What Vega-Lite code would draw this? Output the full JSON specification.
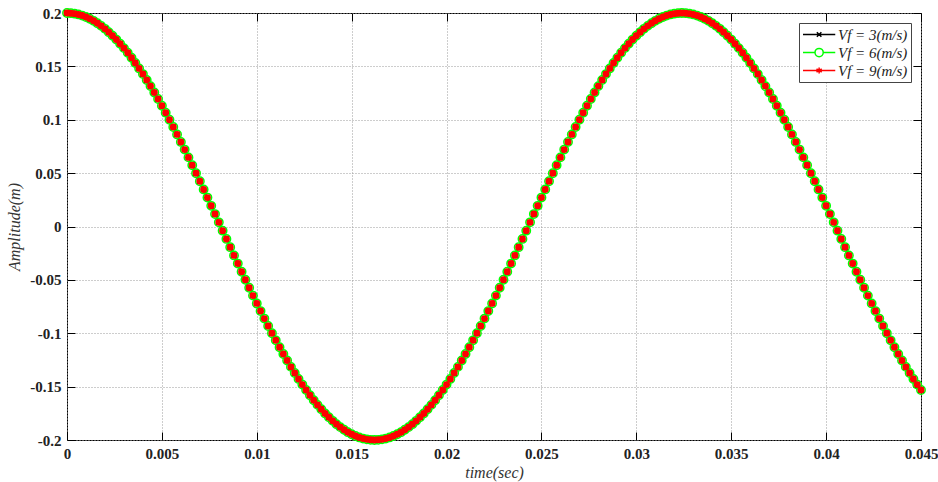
{
"$schema": "https://vega.github.io/schema/vega-lite/v6.json",
"width": 854, "height": 427,
"autosize": {"type": "none"},
"padding": {"left": 67, "top": 13, "right": 17, "bottom": 42},
"background": "white",
"config": {"view": {"stroke": "black", "strokeWidth": 1}, "font": "Liberation Serif"},
"data": {"values": [
{"t":0,"v3":0.2,"v6":0.2,"v9":0.2},
{"t":0.0002,"v3":0.19985,"v6":0.19985,"v9":0.19985},
{"t":0.0004,"v3":0.1994,"v6":0.1994,"v9":0.1994},
{"t":0.0006,"v3":0.19865,"v6":0.19865,"v9":0.19865},
{"t":0.0008,"v3":0.1976,"v6":0.1976,"v9":0.1976},
{"t":0.001,"v3":0.19625,"v6":0.19625,"v9":0.19625},
{"t":0.0012,"v3":0.19461,"v6":0.19461,"v9":0.19461},
{"t":0.0014,"v3":0.19267,"v6":0.19267,"v9":0.19267},
{"t":0.0016,"v3":0.19045,"v6":0.19045,"v9":0.19045},
{"t":0.0018,"v3":0.18794,"v6":0.18794,"v9":0.18794},
{"t":0.002,"v3":0.18514,"v6":0.18514,"v9":0.18514},
{"t":0.0022,"v3":0.18207,"v6":0.18207,"v9":0.18207},
{"t":0.0024,"v3":0.17873,"v6":0.17873,"v9":0.17873},
{"t":0.0026,"v3":0.17511,"v6":0.17511,"v9":0.17511},
{"t":0.0028,"v3":0.17123,"v6":0.17123,"v9":0.17123},
{"t":0.003,"v3":0.1671,"v6":0.1671,"v9":0.1671},
{"t":0.0032,"v3":0.16271,"v6":0.16271,"v9":0.16271},
{"t":0.0034,"v3":0.15808,"v6":0.15808,"v9":0.15808},
{"t":0.0036,"v3":0.15321,"v6":0.15321,"v9":0.15321},
{"t":0.0038,"v3":0.14811,"v6":0.14811,"v9":0.14811},
{"t":0.004,"v3":0.14279,"v6":0.14279,"v9":0.14279},
{"t":0.0042,"v3":0.13725,"v6":0.13725,"v9":0.13725},
{"t":0.0044,"v3":0.1315,"v6":0.1315,"v9":0.1315},
{"t":0.0046,"v3":0.12556,"v6":0.12556,"v9":0.12556},
{"t":0.0048,"v3":0.11943,"v6":0.11943,"v9":0.11943},
{"t":0.005,"v3":0.11312,"v6":0.11312,"v9":0.11312},
{"t":0.0052,"v3":0.10664,"v6":0.10664,"v9":0.10664},
{"t":0.0054,"v3":0.1,"v6":0.1,"v9":0.1},
{"t":0.0056,"v3":0.09321,"v6":0.09321,"v9":0.09321},
{"t":0.0058,"v3":0.08628,"v6":0.08628,"v9":0.08628},
{"t":0.006,"v3":0.07922,"v6":0.07922,"v9":0.07922},
{"t":0.0062,"v3":0.07204,"v6":0.07204,"v9":0.07204},
{"t":0.0064,"v3":0.06475,"v6":0.06475,"v9":0.06475},
{"t":0.0066,"v3":0.05736,"v6":0.05736,"v9":0.05736},
{"t":0.0068,"v3":0.04989,"v6":0.04989,"v9":0.04989},
{"t":0.007,"v3":0.04234,"v6":0.04234,"v9":0.04234},
{"t":0.0072,"v3":0.03473,"v6":0.03473,"v9":0.03473},
{"t":0.0074,"v3":0.02707,"v6":0.02707,"v9":0.02707},
{"t":0.0076,"v3":0.01936,"v6":0.01936,"v9":0.01936},
{"t":0.0078,"v3":0.01163,"v6":0.01163,"v9":0.01163},
{"t":0.008,"v3":0.00388,"v6":0.00388,"v9":0.00388},
{"t":0.0082,"v3":-0.00388,"v6":-0.00388,"v9":-0.00388},
{"t":0.0084,"v3":-0.01163,"v6":-0.01163,"v9":-0.01163},
{"t":0.0086,"v3":-0.01936,"v6":-0.01936,"v9":-0.01936},
{"t":0.0088,"v3":-0.02707,"v6":-0.02707,"v9":-0.02707},
{"t":0.009,"v3":-0.03473,"v6":-0.03473,"v9":-0.03473},
{"t":0.0092,"v3":-0.04234,"v6":-0.04234,"v9":-0.04234},
{"t":0.0094,"v3":-0.04989,"v6":-0.04989,"v9":-0.04989},
{"t":0.0096,"v3":-0.05736,"v6":-0.05736,"v9":-0.05736},
{"t":0.0098,"v3":-0.06475,"v6":-0.06475,"v9":-0.06475},
{"t":0.01,"v3":-0.07204,"v6":-0.07204,"v9":-0.07204},
{"t":0.0102,"v3":-0.07922,"v6":-0.07922,"v9":-0.07922},
{"t":0.0104,"v3":-0.08628,"v6":-0.08628,"v9":-0.08628},
{"t":0.0106,"v3":-0.09321,"v6":-0.09321,"v9":-0.09321},
{"t":0.0108,"v3":-0.1,"v6":-0.1,"v9":-0.1},
{"t":0.011,"v3":-0.10664,"v6":-0.10664,"v9":-0.10664},
{"t":0.0112,"v3":-0.11312,"v6":-0.11312,"v9":-0.11312},
{"t":0.0114,"v3":-0.11943,"v6":-0.11943,"v9":-0.11943},
{"t":0.0116,"v3":-0.12556,"v6":-0.12556,"v9":-0.12556},
{"t":0.0118,"v3":-0.1315,"v6":-0.1315,"v9":-0.1315},
{"t":0.012,"v3":-0.13725,"v6":-0.13725,"v9":-0.13725},
{"t":0.0122,"v3":-0.14279,"v6":-0.14279,"v9":-0.14279},
{"t":0.0124,"v3":-0.14811,"v6":-0.14811,"v9":-0.14811},
{"t":0.0126,"v3":-0.15321,"v6":-0.15321,"v9":-0.15321},
{"t":0.0128,"v3":-0.15808,"v6":-0.15808,"v9":-0.15808},
{"t":0.013,"v3":-0.16271,"v6":-0.16271,"v9":-0.16271},
{"t":0.0132,"v3":-0.1671,"v6":-0.1671,"v9":-0.1671},
{"t":0.0134,"v3":-0.17123,"v6":-0.17123,"v9":-0.17123},
{"t":0.0136,"v3":-0.17511,"v6":-0.17511,"v9":-0.17511},
{"t":0.0138,"v3":-0.17873,"v6":-0.17873,"v9":-0.17873},
{"t":0.014,"v3":-0.18207,"v6":-0.18207,"v9":-0.18207},
{"t":0.0142,"v3":-0.18514,"v6":-0.18514,"v9":-0.18514},
{"t":0.0144,"v3":-0.18794,"v6":-0.18794,"v9":-0.18794},
{"t":0.0146,"v3":-0.19045,"v6":-0.19045,"v9":-0.19045},
{"t":0.0148,"v3":-0.19267,"v6":-0.19267,"v9":-0.19267},
{"t":0.015,"v3":-0.19461,"v6":-0.19461,"v9":-0.19461},
{"t":0.0152,"v3":-0.19625,"v6":-0.19625,"v9":-0.19625},
{"t":0.0154,"v3":-0.1976,"v6":-0.1976,"v9":-0.1976},
{"t":0.0156,"v3":-0.19865,"v6":-0.19865,"v9":-0.19865},
{"t":0.0158,"v3":-0.1994,"v6":-0.1994,"v9":-0.1994},
{"t":0.016,"v3":-0.19985,"v6":-0.19985,"v9":-0.19985},
{"t":0.0162,"v3":-0.2,"v6":-0.2,"v9":-0.2},
{"t":0.0164,"v3":-0.19985,"v6":-0.19985,"v9":-0.19985},
{"t":0.0166,"v3":-0.1994,"v6":-0.1994,"v9":-0.1994},
{"t":0.0168,"v3":-0.19865,"v6":-0.19865,"v9":-0.19865},
{"t":0.017,"v3":-0.1976,"v6":-0.1976,"v9":-0.1976},
{"t":0.0172,"v3":-0.19625,"v6":-0.19625,"v9":-0.19625},
{"t":0.0174,"v3":-0.19461,"v6":-0.19461,"v9":-0.19461},
{"t":0.0176,"v3":-0.19267,"v6":-0.19267,"v9":-0.19267},
{"t":0.0178,"v3":-0.19045,"v6":-0.19045,"v9":-0.19045},
{"t":0.018,"v3":-0.18794,"v6":-0.18794,"v9":-0.18794},
{"t":0.0182,"v3":-0.18514,"v6":-0.18514,"v9":-0.18514},
{"t":0.0184,"v3":-0.18207,"v6":-0.18207,"v9":-0.18207},
{"t":0.0186,"v3":-0.17873,"v6":-0.17873,"v9":-0.17873},
{"t":0.0188,"v3":-0.17511,"v6":-0.17511,"v9":-0.17511},
{"t":0.019,"v3":-0.17123,"v6":-0.17123,"v9":-0.17123},
{"t":0.0192,"v3":-0.1671,"v6":-0.1671,"v9":-0.1671},
{"t":0.0194,"v3":-0.16271,"v6":-0.16271,"v9":-0.16271},
{"t":0.0196,"v3":-0.15808,"v6":-0.15808,"v9":-0.15808},
{"t":0.0198,"v3":-0.15321,"v6":-0.15321,"v9":-0.15321},
{"t":0.02,"v3":-0.14811,"v6":-0.14811,"v9":-0.14811},
{"t":0.0202,"v3":-0.14279,"v6":-0.14279,"v9":-0.14279},
{"t":0.0204,"v3":-0.13725,"v6":-0.13725,"v9":-0.13725},
{"t":0.0206,"v3":-0.1315,"v6":-0.1315,"v9":-0.1315},
{"t":0.0208,"v3":-0.12556,"v6":-0.12556,"v9":-0.12556},
{"t":0.021,"v3":-0.11943,"v6":-0.11943,"v9":-0.11943},
{"t":0.0212,"v3":-0.11312,"v6":-0.11312,"v9":-0.11312},
{"t":0.0214,"v3":-0.10664,"v6":-0.10664,"v9":-0.10664},
{"t":0.0216,"v3":-0.1,"v6":-0.1,"v9":-0.1},
{"t":0.0218,"v3":-0.09321,"v6":-0.09321,"v9":-0.09321},
{"t":0.022,"v3":-0.08628,"v6":-0.08628,"v9":-0.08628},
{"t":0.0222,"v3":-0.07922,"v6":-0.07922,"v9":-0.07922},
{"t":0.0224,"v3":-0.07204,"v6":-0.07204,"v9":-0.07204},
{"t":0.0226,"v3":-0.06475,"v6":-0.06475,"v9":-0.06475},
{"t":0.0228,"v3":-0.05736,"v6":-0.05736,"v9":-0.05736},
{"t":0.023,"v3":-0.04989,"v6":-0.04989,"v9":-0.04989},
{"t":0.0232,"v3":-0.04234,"v6":-0.04234,"v9":-0.04234},
{"t":0.0234,"v3":-0.03473,"v6":-0.03473,"v9":-0.03473},
{"t":0.0236,"v3":-0.02707,"v6":-0.02707,"v9":-0.02707},
{"t":0.0238,"v3":-0.01936,"v6":-0.01936,"v9":-0.01936},
{"t":0.024,"v3":-0.01163,"v6":-0.01163,"v9":-0.01163},
{"t":0.0242,"v3":-0.00388,"v6":-0.00388,"v9":-0.00388},
{"t":0.0244,"v3":0.00388,"v6":0.00388,"v9":0.00388},
{"t":0.0246,"v3":0.01163,"v6":0.01163,"v9":0.01163},
{"t":0.0248,"v3":0.01936,"v6":0.01936,"v9":0.01936},
{"t":0.025,"v3":0.02707,"v6":0.02707,"v9":0.02707},
{"t":0.0252,"v3":0.03473,"v6":0.03473,"v9":0.03473},
{"t":0.0254,"v3":0.04234,"v6":0.04234,"v9":0.04234},
{"t":0.0256,"v3":0.04989,"v6":0.04989,"v9":0.04989},
{"t":0.0258,"v3":0.05736,"v6":0.05736,"v9":0.05736},
{"t":0.026,"v3":0.06475,"v6":0.06475,"v9":0.06475},
{"t":0.0262,"v3":0.07204,"v6":0.07204,"v9":0.07204},
{"t":0.0264,"v3":0.07922,"v6":0.07922,"v9":0.07922},
{"t":0.0266,"v3":0.08628,"v6":0.08628,"v9":0.08628},
{"t":0.0268,"v3":0.09321,"v6":0.09321,"v9":0.09321},
{"t":0.027,"v3":0.1,"v6":0.1,"v9":0.1},
{"t":0.0272,"v3":0.10664,"v6":0.10664,"v9":0.10664},
{"t":0.0274,"v3":0.11312,"v6":0.11312,"v9":0.11312},
{"t":0.0276,"v3":0.11943,"v6":0.11943,"v9":0.11943},
{"t":0.0278,"v3":0.12556,"v6":0.12556,"v9":0.12556},
{"t":0.028,"v3":0.1315,"v6":0.1315,"v9":0.1315},
{"t":0.0282,"v3":0.13725,"v6":0.13725,"v9":0.13725},
{"t":0.0284,"v3":0.14279,"v6":0.14279,"v9":0.14279},
{"t":0.0286,"v3":0.14811,"v6":0.14811,"v9":0.14811},
{"t":0.0288,"v3":0.15321,"v6":0.15321,"v9":0.15321},
{"t":0.029,"v3":0.15808,"v6":0.15808,"v9":0.15808},
{"t":0.0292,"v3":0.16271,"v6":0.16271,"v9":0.16271},
{"t":0.0294,"v3":0.1671,"v6":0.1671,"v9":0.1671},
{"t":0.0296,"v3":0.17123,"v6":0.17123,"v9":0.17123},
{"t":0.0298,"v3":0.17511,"v6":0.17511,"v9":0.17511},
{"t":0.03,"v3":0.17873,"v6":0.17873,"v9":0.17873},
{"t":0.0302,"v3":0.18207,"v6":0.18207,"v9":0.18207},
{"t":0.0304,"v3":0.18514,"v6":0.18514,"v9":0.18514},
{"t":0.0306,"v3":0.18794,"v6":0.18794,"v9":0.18794},
{"t":0.0308,"v3":0.19045,"v6":0.19045,"v9":0.19045},
{"t":0.031,"v3":0.19267,"v6":0.19267,"v9":0.19267},
{"t":0.0312,"v3":0.19461,"v6":0.19461,"v9":0.19461},
{"t":0.0314,"v3":0.19625,"v6":0.19625,"v9":0.19625},
{"t":0.0316,"v3":0.1976,"v6":0.1976,"v9":0.1976},
{"t":0.0318,"v3":0.19865,"v6":0.19865,"v9":0.19865},
{"t":0.032,"v3":0.1994,"v6":0.1994,"v9":0.1994},
{"t":0.0322,"v3":0.19985,"v6":0.19985,"v9":0.19985},
{"t":0.0324,"v3":0.2,"v6":0.2,"v9":0.2},
{"t":0.0326,"v3":0.19985,"v6":0.19985,"v9":0.19985},
{"t":0.0328,"v3":0.1994,"v6":0.1994,"v9":0.1994},
{"t":0.033,"v3":0.19865,"v6":0.19865,"v9":0.19865},
{"t":0.0332,"v3":0.1976,"v6":0.1976,"v9":0.1976},
{"t":0.0334,"v3":0.19625,"v6":0.19625,"v9":0.19625},
{"t":0.0336,"v3":0.19461,"v6":0.19461,"v9":0.19461},
{"t":0.0338,"v3":0.19267,"v6":0.19267,"v9":0.19267},
{"t":0.034,"v3":0.19045,"v6":0.19045,"v9":0.19045},
{"t":0.0342,"v3":0.18794,"v6":0.18794,"v9":0.18794},
{"t":0.0344,"v3":0.18514,"v6":0.18514,"v9":0.18514},
{"t":0.0346,"v3":0.18207,"v6":0.18207,"v9":0.18207},
{"t":0.0348,"v3":0.17873,"v6":0.17873,"v9":0.17873},
{"t":0.035,"v3":0.17511,"v6":0.17511,"v9":0.17511},
{"t":0.0352,"v3":0.17123,"v6":0.17123,"v9":0.17123},
{"t":0.0354,"v3":0.1671,"v6":0.1671,"v9":0.1671},
{"t":0.0356,"v3":0.16271,"v6":0.16271,"v9":0.16271},
{"t":0.0358,"v3":0.15808,"v6":0.15808,"v9":0.15808},
{"t":0.036,"v3":0.15321,"v6":0.15321,"v9":0.15321},
{"t":0.0362,"v3":0.14811,"v6":0.14811,"v9":0.14811},
{"t":0.0364,"v3":0.14279,"v6":0.14279,"v9":0.14279},
{"t":0.0366,"v3":0.13725,"v6":0.13725,"v9":0.13725},
{"t":0.0368,"v3":0.1315,"v6":0.1315,"v9":0.1315},
{"t":0.037,"v3":0.12556,"v6":0.12556,"v9":0.12556},
{"t":0.0372,"v3":0.11943,"v6":0.11943,"v9":0.11943},
{"t":0.0374,"v3":0.11312,"v6":0.11312,"v9":0.11312},
{"t":0.0376,"v3":0.10664,"v6":0.10664,"v9":0.10664},
{"t":0.0378,"v3":0.1,"v6":0.1,"v9":0.1},
{"t":0.038,"v3":0.09321,"v6":0.09321,"v9":0.09321},
{"t":0.0382,"v3":0.08628,"v6":0.08628,"v9":0.08628},
{"t":0.0384,"v3":0.07922,"v6":0.07922,"v9":0.07922},
{"t":0.0386,"v3":0.07204,"v6":0.07204,"v9":0.07204},
{"t":0.0388,"v3":0.06475,"v6":0.06475,"v9":0.06475},
{"t":0.039,"v3":0.05736,"v6":0.05736,"v9":0.05736},
{"t":0.0392,"v3":0.04989,"v6":0.04989,"v9":0.04989},
{"t":0.0394,"v3":0.04234,"v6":0.04234,"v9":0.04234},
{"t":0.0396,"v3":0.03473,"v6":0.03473,"v9":0.03473},
{"t":0.0398,"v3":0.02707,"v6":0.02707,"v9":0.02707},
{"t":0.04,"v3":0.01936,"v6":0.01936,"v9":0.01936},
{"t":0.0402,"v3":0.01163,"v6":0.01163,"v9":0.01163},
{"t":0.0404,"v3":0.00388,"v6":0.00388,"v9":0.00388},
{"t":0.0406,"v3":-0.00388,"v6":-0.00388,"v9":-0.00388},
{"t":0.0408,"v3":-0.01163,"v6":-0.01163,"v9":-0.01163},
{"t":0.041,"v3":-0.01936,"v6":-0.01936,"v9":-0.01936},
{"t":0.0412,"v3":-0.02707,"v6":-0.02707,"v9":-0.02707},
{"t":0.0414,"v3":-0.03473,"v6":-0.03473,"v9":-0.03473},
{"t":0.0416,"v3":-0.04234,"v6":-0.04234,"v9":-0.04234},
{"t":0.0418,"v3":-0.04989,"v6":-0.04989,"v9":-0.04989},
{"t":0.042,"v3":-0.05736,"v6":-0.05736,"v9":-0.05736},
{"t":0.0422,"v3":-0.06475,"v6":-0.06475,"v9":-0.06475},
{"t":0.0424,"v3":-0.07204,"v6":-0.07204,"v9":-0.07204},
{"t":0.0426,"v3":-0.07922,"v6":-0.07922,"v9":-0.07922},
{"t":0.0428,"v3":-0.08628,"v6":-0.08628,"v9":-0.08628},
{"t":0.043,"v3":-0.09321,"v6":-0.09321,"v9":-0.09321},
{"t":0.0432,"v3":-0.1,"v6":-0.1,"v9":-0.1},
{"t":0.0434,"v3":-0.10664,"v6":-0.10664,"v9":-0.10664},
{"t":0.0436,"v3":-0.11312,"v6":-0.11312,"v9":-0.11312},
{"t":0.0438,"v3":-0.11943,"v6":-0.11943,"v9":-0.11943},
{"t":0.044,"v3":-0.12556,"v6":-0.12556,"v9":-0.12556},
{"t":0.0442,"v3":-0.1315,"v6":-0.1315,"v9":-0.1315},
{"t":0.0444,"v3":-0.13725,"v6":-0.13725,"v9":-0.13725},
{"t":0.0446,"v3":-0.14279,"v6":-0.14279,"v9":-0.14279},
{"t":0.0448,"v3":-0.14811,"v6":-0.14811,"v9":-0.14811},
{"t":0.045,"v3":-0.15321,"v6":-0.15321,"v9":-0.15321}
]},
"transform": [{"fold": ["v3", "v6", "v9"], "as": ["series", "a"]}],
"layer": [
 {
  "encoding": {
   "x": {"field": "t", "type": "quantitative", "scale": {"domain": [0, 0.045], "nice": false, "zero": false},
    "axis": {"title": "time(sec)", "titleFont": "Liberation Serif", "titleFontStyle": "italic", "titleFontWeight": "normal", "titleFontSize": 16, "titleColor": "#333333", "titlePadding": 3,
     "values": [0, 0.005, 0.01, 0.015, 0.02, 0.025, 0.03, 0.035, 0.04, 0.045], "labelExpr": "'' + datum.value",
     "labelFont": "Liberation Serif", "labelFontWeight": "bold", "labelFontSize": 15, "labelColor": "#222222", "labelFlush": false, "labelOverlap": false,
     "tickSize": -8, "tickColor": "#000000", "labelPadding": 14, "domain": false,
     "grid": true, "gridDash": [1, 2], "gridColor": "#9a9a9a", "gridWidth": 1}},
   "y": {"field": "a", "type": "quantitative", "scale": {"domain": [-0.2, 0.2], "nice": false, "zero": false},
    "axis": {"title": "Amplitude(m)", "titleFont": "Liberation Serif", "titleFontStyle": "italic", "titleFontWeight": "normal", "titleFontSize": 16, "titleColor": "#333333", "titlePadding": 7,
     "values": [-0.2, -0.15, -0.1, -0.05, 0, 0.05, 0.1, 0.15, 0.2], "labelExpr": "'' + datum.value",
     "labelFont": "Liberation Serif", "labelFontWeight": "bold", "labelFontSize": 15, "labelColor": "#222222", "labelFlush": false, "labelOverlap": false,
     "tickSize": -8, "tickColor": "#000000", "labelPadding": 14, "domain": false,
     "grid": true, "gridDash": [1, 2], "gridColor": "#9a9a9a", "gridWidth": 1}}
  },
  "layer": [
   {"mark": {"type": "line", "strokeWidth": 1},
    "encoding": {"color": {"field": "series", "type": "nominal",
     "scale": {"domain": ["v3", "v6", "v9"], "range": ["#000000", "#00ff00", "#ff0000"]},
     "legend": {"title": null, "orient": "top-right", "offset": 10, "fillColor": "white", "strokeColor": "#444444", "padding": 3,
      "labelFont": "Liberation Serif", "labelFontStyle": "italic", "labelFontSize": 15, "labelColor": "#222222",
      "symbolSize": 225, "symbolStrokeWidth": 1.5, "rowPadding": 1, "labelOffset": 19,
      "labelExpr": "datum.value === 'v3' ? 'Vf = 3(m/s)' : datum.value === 'v6' ? 'Vf = 6(m/s)' : 'Vf = 9(m/s)'",
      "encode": {"symbols": {"update": {"shape": {"signal": "datum.value === 'v3' ? 'M-1,0L3.3,0M0.85,-0.3L1.45,0.3M0.85,0.3L1.45,-0.3' : datum.value === 'v6' ? 'M-1,0L0.6,0M1.7,0L3.3,0M0.6,0A0.55,0.55 0 1 0 1.7,0A0.55,0.55 0 1 0 0.6,0' : 'M-1,0L3.3,0M1.15,-0.4L1.15,0.4M0.8,-0.2L1.5,0.2M0.8,0.2L1.5,-0.2'"}}}}
     }}}},
   {"transform": [{"filter": "datum.series === 'v3'"}],
    "mark": {"type": "point", "shape": "M-1,-1L1,1M-1,1L1,-1", "filled": false, "stroke": "#000000", "strokeWidth": 1.2, "size": 30, "opacity": 1}},
   {"transform": [{"filter": "datum.series === 'v6'"}],
    "mark": {"type": "point", "shape": "circle", "filled": false, "stroke": "#00ff00", "strokeWidth": 1.5, "size": 70, "opacity": 1}},
   {"transform": [{"filter": "datum.series === 'v9'"}],
    "mark": {"type": "point", "shape": "circle", "filled": true, "fill": "#ff0000", "size": 48, "opacity": 1}}
  ]
 },
 {
  "mark": {"type": "point", "opacity": 0},
  "encoding": {
   "x": {"field": "t", "type": "quantitative", "scale": {"domain": [0, 0.045], "nice": false, "zero": false},
    "axis": {"orient": "top", "title": null, "labels": false, "grid": false, "domain": false, "tickSize": -8, "tickColor": "#000000",
     "values": [0, 0.005, 0.01, 0.015, 0.02, 0.025, 0.03, 0.035, 0.04, 0.045]}},
   "y": {"field": "a", "type": "quantitative", "scale": {"domain": [-0.2, 0.2], "nice": false, "zero": false},
    "axis": {"orient": "right", "title": null, "labels": false, "grid": false, "domain": false, "tickSize": -8, "tickColor": "#000000",
     "values": [-0.2, -0.15, -0.1, -0.05, 0, 0.05, 0.1, 0.15, 0.2]}}
  }
 }
],
"resolve": {"axis": {"x": "independent", "y": "independent"}}
}
